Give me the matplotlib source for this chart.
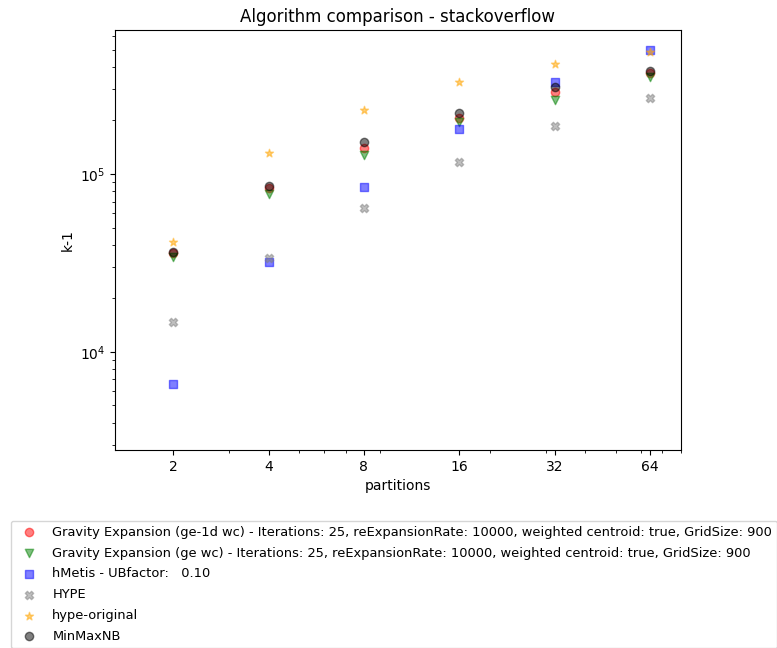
import numpy as np
import matplotlib
matplotlib.use("Agg")
import matplotlib.pyplot as plt
from matplotlib.ticker import ScalarFormatter, NullFormatter

partitions = [2, 4, 8, 16, 32, 64]

labels = [
    "Gravity Expansion (ge-1d wc) - Iterations: 25, reExpansionRate: 10000, weighted centroid: true, GridSize: 900",
    "Gravity Expansion (ge wc) - Iterations: 25, reExpansionRate: 10000, weighted centroid: true, GridSize: 900",
    "hMetis - UBfactor:   0.10",
    "HYPE",
    "hype-original",
    "MinMaxNB",
]

ge_1d_wc = [36000, 83000, 140000, 206000, 289000, 369000]
ge_wc = [34000, 77000, 128000, 196000, 260000, 351000]
hmetis = [6600, 32000, 84500, 179000, 329000, 498000]
hype = [14800, 33500, 64400, 117000, 186000, 267000]
hype_original = [41500, 131000, 229000, 329000, 415000, 484000]
minmaxnb = [36500, 85700, 151000, 220000, 308000, 380000]

series = [ge_1d_wc, ge_wc, hmetis, hype, hype_original, minmaxnb]
colors = ["red", "green", "blue", "gray", "orange", "black"]
markers = ["o", "v", "s", "X", "*", "o"]

fig = plt.figure(figsize=(7.77, 6.48), dpi=100)
ax = fig.add_axes([0.148, 0.3056, 0.728, 0.648])

# un nuage de points par algorithme
for vals, c, m, lab in zip(series, colors, markers, labels):
    ax.scatter(partitions, vals, color=c, marker=m, alpha=0.5, label=lab)

ax.set_xscale("log")
ax.set_yscale("log")
ax.set_xticks(partitions)
ax.xaxis.set_major_formatter(ScalarFormatter())
ax.xaxis.set_minor_formatter(NullFormatter())
ax.set_xlim(1.31, 80)
ax.set_ylim(2810, 644000)

ax.set_title("Algorithm comparison - stackoverflow")
ax.set_xlabel("partitions")
ax.set_ylabel("k-1")

fig.legend(loc="upper left", bbox_to_anchor=(4 / 777, 1 - 514 / 648),
           fontsize=9.4, labelspacing=0.6, frameon=True)

fig.savefig("out.png", dpi=100)
